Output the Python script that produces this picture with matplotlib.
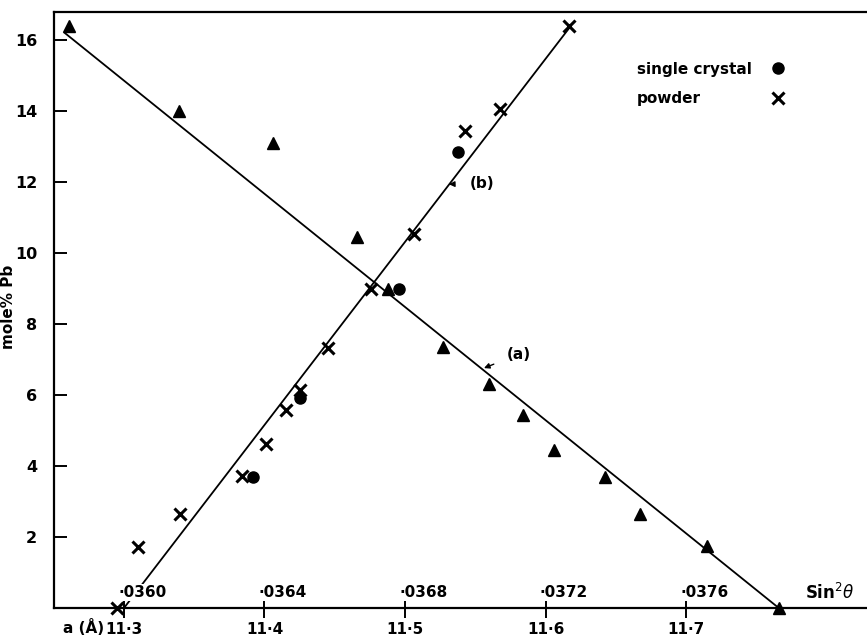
import matplotlib
matplotlib.use("Agg")
import matplotlib.pyplot as plt
import matplotlib.transforms as mtransforms

# ---- data ----
tri_a = [11.261, 11.339, 11.406, 11.466, 11.488, 11.527, 11.560, 11.584, 11.606, 11.642, 11.667, 11.715, 11.766]
tri_y = [16.4, 14.0, 13.1, 10.45, 9.0, 7.35, 6.3, 5.45, 4.45, 3.7, 2.65, 1.75, 0.0]

crystal_a = [11.392, 11.425, 11.4955, 11.538]
crystal_y = [3.70, 5.92, 9.0, 12.85]

powder_a = [11.295, 11.310, 11.340, 11.384, 11.401, 11.415, 11.425, 11.445, 11.476, 11.5066, 11.5427, 11.5676, 11.617]
powder_y = [0.0, 1.73, 2.65, 3.73, 4.62, 5.58, 6.14, 7.32, 8.98, 10.53, 13.44, 14.05, 16.4]

line_a_x = [11.258, 11.766]
line_a_y = [16.2, 0.0]
line_b_x = [11.300, 11.617]
line_b_y = [0.0, 16.35]

a_ticks = [11.3, 11.4, 11.5, 11.6, 11.7]
a_labels = ["11·3", "11·4", "11·5", "11·6", "11·7"]
sin_labels = ["·0360", "·0364", "·0368", "·0372", "·0376"]
y_ticks = [2, 4, 6, 8, 10, 12, 14, 16]

# ---- figure ----
plt.rcParams['font.family'] = ['DejaVu Sans']
fig = plt.figure(figsize=(8.67, 6.4), dpi=100)
ax = fig.add_axes([0.0623, 0.05, 0.9377, 0.931])
ax.set_xlim(11.2502, 11.8288)
ax.set_ylim(0, 16.79)

ax.spines['right'].set_visible(False)
for s in ['left', 'bottom', 'top']:
    ax.spines[s].set_linewidth(1.6)
    ax.spines[s].set_color('black')

lw = 1.3
ax.plot(line_a_x, line_a_y, color='black', lw=lw, zorder=2)
ax.plot(line_b_x, line_b_y, color='black', lw=lw, zorder=2)

ax.plot(tri_a, tri_y, linestyle='none', marker='^', ms=9, color='black', zorder=4, clip_on=False)
ax.plot(crystal_a, crystal_y, linestyle='none', marker='o', ms=8, color='black', zorder=4,
        label='single crystal', clip_on=False)
ax.plot(powder_a, powder_y, linestyle='none', marker='x', ms=8, mew=2.2, color='black', zorder=4,
        label='powder', clip_on=False)

# ticks
ax.set_yticks(y_ticks)
ax.set_yticklabels([str(v) for v in y_ticks], fontsize=11.5, fontweight='bold')
ax.tick_params(axis='y', direction='in', length=9, width=1.4, pad=12)
ax.set_xticks(a_ticks)
ax.set_xticklabels(a_labels, fontsize=11, fontweight='bold')
ax.tick_params(axis='x', direction='inout', length=14, width=1.4, pad=3)

ax.set_ylabel("mole% Pb", fontsize=11, fontweight='bold', labelpad=2)
ax.yaxis.set_label_coords(-0.047, 0.505)

trans_b = mtransforms.blended_transform_factory(ax.transData, ax.transAxes)
ax.text(11.2712, -0.032, "a (Å)", transform=trans_b, ha='center', va='center',
        fontsize=11, fontweight='bold', clip_on=False)

for x, lab in zip(a_ticks, sin_labels):
    ax.text(x - 0.004, 0.026, lab, transform=trans_b, ha='left', va='center', fontsize=11,
            fontweight='bold', zorder=3,
            bbox=dict(facecolor='white', edgecolor='none', pad=0.5))
ax.text(11.785, 0.026, r"Sin$^{2}\theta$", transform=trans_b, ha='left', va='center', fontsize=12,
        fontweight='bold')

ax.annotate("(a)", xy=(11.5562, 6.76), xytext=(11.5811, 7.155), ha='center', va='center',
            fontsize=11, fontweight='bold',
            arrowprops=dict(arrowstyle='-|>', color='black', lw=1.0, mutation_scale=8, shrinkA=8, shrinkB=0))
ax.annotate("(b)", xy=(11.5313, 11.94), xytext=(11.5548, 11.97), ha='center', va='center',
            fontsize=11, fontweight='bold',
            arrowprops=dict(arrowstyle='-|>', color='black', lw=1.0, mutation_scale=8, shrinkA=10, shrinkB=0))

# legend: labels left-aligned, markers in a column on the right
leg = ax.legend(loc='upper left', bbox_to_anchor=(0.70, 0.94), frameon=False, markerfirst=False,
                handlelength=1.0, handletextpad=1.2, labelspacing=0.95,
                prop={'weight': 'bold', 'size': 11})
fig.canvas.draw()
r = fig.canvas.get_renderer()
texts = leg.get_texts()
widths = [t.get_window_extent(r).width for t in texts]
maxw = max(widths)
col = leg._legend_handle_box.get_children()[0]
for item, w in zip(col.get_children(), widths):
    item.sep = item.sep + (maxw - w) * 72.0 / fig.dpi

fig.savefig("out.png", dpi=100)
